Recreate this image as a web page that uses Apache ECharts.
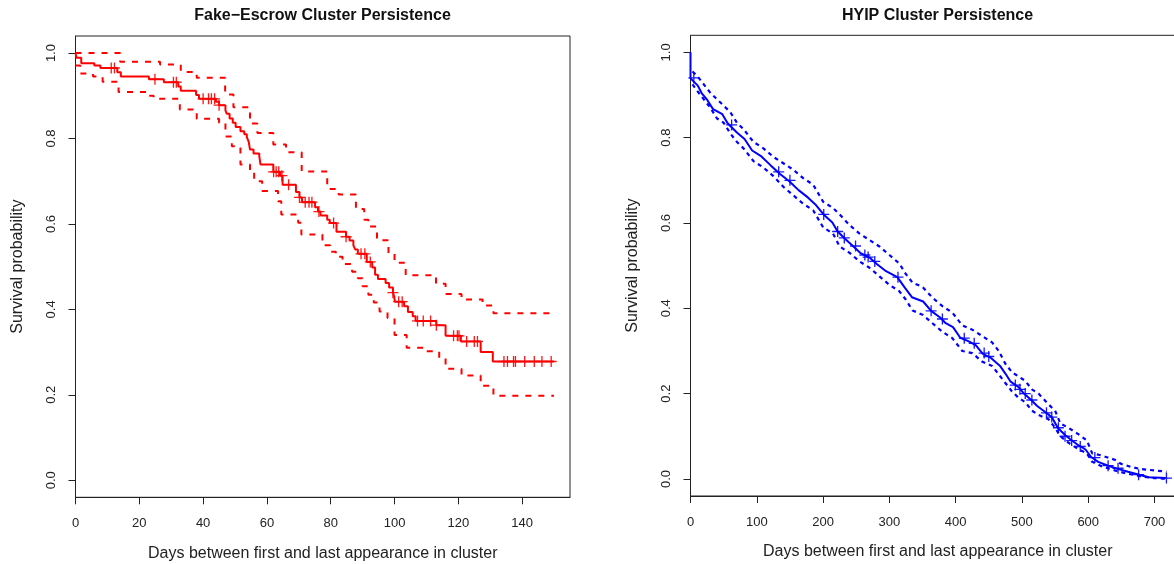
<!DOCTYPE html>
<html><head><meta charset="utf-8">
<script src="https://cdn.jsdelivr.net/npm/echarts@6/dist/echarts.min.js"></script>
<style>html,body{margin:0;padding:0;background:#fff}#c{width:1174px;height:564px}</style>
</head><body><div id="c"></div>
<script>
// ---------- Fake-Escrow (red) ----------
const escrowSurv = [[0,1],[0.3,0.989],[1.8,0.976],[5.9,0.971],[7.8,0.965],[13.1,0.955],[14.2,0.945],[23,0.939],[27.7,0.932],[32.2,0.922],[33,0.912],[37.8,0.902],[38.7,0.893],[44,0.886],[45,0.878],[47,0.866],[47.4,0.858],[48.3,0.847],[49.3,0.837],[50.2,0.827],[51.7,0.817],[52.9,0.81],[53.7,0.803],[54.3,0.792],[54.7,0.774],[55.8,0.765],[57.6,0.759],[58,0.739],[62,0.722],[64.1,0.713],[64.9,0.692],[69.1,0.675],[70.2,0.662],[71,0.651],[75.1,0.639],[76,0.629],[76.8,0.62],[78.9,0.61],[79.7,0.602],[81.8,0.582],[84.8,0.57],[85.9,0.561],[87.1,0.55],[87.7,0.54],[88.5,0.53],[91.3,0.511],[93,0.498],[93.9,0.481],[94.8,0.471],[97.2,0.462],[98.3,0.451],[99.5,0.439],[99.9,0.43],[100.1,0.418],[103,0.407],[104.2,0.394],[105.7,0.384],[106.6,0.373],[113.1,0.363],[116,0.338],[120.8,0.325],[127,0.3],[130.8,0.278],[150,0.278]];
const escrowUpper = [[0,1],[14,0.98],[26.5,0.973],[33,0.956],[38,0.942],[46.9,0.903],[49.5,0.873],[54.7,0.835],[57,0.813],[62,0.786],[66,0.768],[70.9,0.723],[78.9,0.682],[82.5,0.669],[87.9,0.635],[90.5,0.61],[91.8,0.594],[94.5,0.562],[98.1,0.53],[100,0.509],[103.5,0.48],[113,0.46],[116,0.436],[121,0.423],[127.6,0.409],[131,0.391],[150,0.391]];
const escrowLower = [[0,0.971],[1.5,0.952],[5.5,0.945],[8.5,0.933],[13.5,0.909],[22.8,0.9],[24.5,0.893],[32.7,0.868],[38,0.846],[45,0.837],[47,0.805],[49,0.782],[51.7,0.739],[54.7,0.72],[56,0.7],[58.5,0.677],[63.5,0.653],[64.5,0.622],[69.8,0.603],[70.8,0.575],[77.4,0.55],[79.8,0.535],[81.6,0.523],[83.7,0.506],[86.7,0.488],[88.5,0.473],[90,0.454],[91.8,0.434],[93.5,0.416],[95.3,0.395],[97.8,0.38],[100,0.34],[103.8,0.31],[109,0.302],[114,0.286],[116,0.261],[121,0.245],[127,0.221],[131,0.198],[150,0.198]];
const escrowCensor = [[11.2,0.965],[12.2,0.965],[24.9,0.939],[30.7,0.932],[31.6,0.932],[40,0.893],[41.7,0.893],[42.6,0.893],[43.6,0.893],[45,0.878],[62.1,0.722],[62.9,0.722],[63.7,0.722],[64.7,0.713],[66.8,0.692],[70.2,0.662],[72,0.651],[73.2,0.651],[74.1,0.651],[76.3,0.629],[80.9,0.602],[84.8,0.57],[89.5,0.53],[90.7,0.53],[92.4,0.511],[99.5,0.439],[101.3,0.418],[102.4,0.418],[107.2,0.373],[109,0.373],[111.3,0.373],[113.1,0.363],[118.5,0.338],[119.7,0.338],[120.2,0.338],[122.6,0.325],[125,0.325],[126,0.325],[134.3,0.278],[135.4,0.278],[137.3,0.278],[137.9,0.278],[140.8,0.278],[143.8,0.278],[146.2,0.278],[149.1,0.278]];

// ---------- HYIP (blue) ----------
const hyipSurv = [[0,1],[0,0.939],[11,0.922],[17,0.904],[25,0.889],[34,0.867],[48,0.855],[56,0.834],[70,0.812],[81.5,0.797],[93,0.77],[107,0.756],[121,0.735],[135,0.715],[149,0.698],[163,0.677],[177,0.66],[188,0.644],[202,0.618],[214,0.601],[222,0.58],[233,0.563],[245,0.546],[256,0.53],[270,0.519],[281,0.504],[295,0.487],[312,0.473],[323,0.449],[334,0.426],[351,0.416],[363,0.394],[377,0.378],[385,0.365],[396,0.356],[407,0.331],[419,0.323],[430,0.314],[441,0.293],[452,0.285],[467,0.265],[475,0.247],[483,0.228],[495,0.215],[503,0.2],[514,0.185],[523,0.171],[534,0.158],[545,0.145],[554,0.12],[565,0.103],[573,0.093],[585,0.079],[596,0.069],[604,0.052],[615,0.04],[630,0.031],[646,0.023],[660,0.017],[677,0.01],[691,0.004],[717,0.002]];
const hyipUpper = [[3,0.955],[10,0.945],[20,0.925],[30,0.905],[40,0.89],[50,0.875],[60,0.86],[70,0.835],[80,0.82],[95,0.79],[110,0.775],[125,0.755],[140,0.74],[155,0.725],[170,0.705],[185,0.69],[200,0.65],[215,0.635],[225,0.62],[240,0.595],[255,0.575],[270,0.56],[285,0.545],[300,0.525],[315,0.505],[325,0.48],[335,0.46],[350,0.45],[365,0.425],[380,0.405],[395,0.39],[410,0.36],[425,0.35],[440,0.335],[455,0.32],[465,0.3],[475,0.27],[485,0.25],[495,0.24],[505,0.23],[515,0.21],[525,0.2],[540,0.175],[550,0.16],[558,0.13],[570,0.12],[585,0.105],[598,0.09],[606,0.06],[620,0.055],[640,0.045],[650,0.035],[665,0.028],[680,0.023],[700,0.02],[718,0.017]];
const hyipLower = [[3,0.925],[10,0.91],[20,0.89],[30,0.87],[40,0.845],[50,0.835],[60,0.81],[70,0.79],[80,0.775],[95,0.745],[110,0.73],[125,0.71],[140,0.685],[155,0.665],[170,0.645],[185,0.63],[200,0.59],[215,0.575],[225,0.545],[240,0.53],[255,0.51],[270,0.495],[285,0.475],[300,0.455],[315,0.44],[325,0.42],[335,0.395],[350,0.385],[365,0.365],[380,0.345],[395,0.33],[410,0.3],[425,0.295],[440,0.275],[455,0.265],[465,0.245],[475,0.225],[485,0.205],[495,0.19],[505,0.18],[515,0.16],[525,0.15],[540,0.14],[550,0.12],[558,0.1],[570,0.085],[585,0.07],[598,0.06],[606,0.04],[620,0.03],[640,0.02],[660,0.012],[680,0.006],[700,0.002],[718,0]];
const hyipCensor = [[5,0.94],[62,0.83],[133,0.72],[150,0.7],[201,0.62],[222,0.58],[232,0.565],[249,0.546],[263,0.525],[268,0.52],[278,0.51],[313,0.473],[363,0.394],[380,0.375],[413,0.33],[428,0.318],[443,0.295],[450,0.287],[490,0.22],[497,0.21],[505,0.2],[515,0.185],[537,0.155],[545,0.145],[555,0.12],[565,0.1],[575,0.09],[588,0.076],[610,0.05],[630,0.031],[645,0.025],[676,0.01],[718,0.002]];

// ---------- ticks & labels ----------
const yTicks = [0, 0.2, 0.4, 0.6, 0.8, 1.0];
const escrowXTicks = [0, 20, 40, 60, 80, 100, 120, 140];
const hyipXTicks = [0, 100, 200, 300, 400, 500, 600, 700];
const titles = ['Fake\u2212Escrow Cluster Persistence', 'HYIP Cluster Persistence'];
const xName = 'Days between first and last appearance in cluster';
const yName = 'Survival probability';

const FONT = '"Liberation Sans", Arial, Helvetica, sans-serif';
const chart = echarts.init(document.getElementById('c'), null, {renderer: 'canvas'});
const CROSS = 'path://M0,8.8H20V11.2H0Z M8.8,0H11.2V20H8.8Z';

function xAx(gi, max, ticks) {
  return {
    type: 'value', gridIndex: gi, min: 0, max: max,
    axisLine: {show: true, onZero: false, lineStyle: {color: '#222', width: 1}},
    splitLine: {show: false},
    axisTick: {show: true, inside: false, length: 7, customValues: ticks, lineStyle: {color: '#222', width: 1}},
    axisLabel: {customValues: ticks, fontSize: 13, color: '#222', margin: 20, fontFamily: FONT},
    name: xName, nameLocation: 'middle', nameGap: 48,
    nameTextStyle: {fontSize: 16, color: '#222', fontFamily: FONT}
  };
}
function yAx(gi) {
  return {
    type: 'value', gridIndex: gi, min: -0.04, max: 1.04,
    axisLine: {show: true, onZero: false, lineStyle: {color: '#222', width: 1}},
    splitLine: {show: false},
    axisTick: {show: true, inside: false, length: 7, customValues: yTicks, lineStyle: {color: '#222', width: 1}},
    axisLabel: {customValues: yTicks, rotate: 90, fontSize: 13, color: '#222', margin: 18, fontFamily: FONT,
      formatter: v => v.toFixed(1)},
    name: yName, nameLocation: 'middle', nameGap: 50, nameRotate: 90,
    nameTextStyle: {fontSize: 16, color: '#222', fontFamily: FONT}
  };
}
function stepLine(data, gi, color, dash, width) {
  return {type: 'line', xAxisIndex: gi, yAxisIndex: gi, data: data, step: 'end', showSymbol: false,
    symbol: 'none', silent: true, lineStyle: {color: color, width: width, type: dash}};
}
function plainLine(data, gi, color, dash, width) {
  return {type: 'line', xAxisIndex: gi, yAxisIndex: gi, data: data, showSymbol: false,
    symbol: 'none', silent: true, lineStyle: {color: color, width: width, type: dash}};
}
function marks(data, gi, color) {
  return {type: 'scatter', xAxisIndex: gi, yAxisIndex: gi, data: data, symbol: CROSS, symbolSize: 11,
    silent: true, itemStyle: {color: color, opacity: 0.9}};
}

chart.setOption({
  animation: false,
  backgroundColor: '#fff',
  title: [
    {text: titles[0], left: 317.5, top: 3, textAlign: 'center',
      textStyle: {fontSize: 16, fontWeight: 'bold', color: '#111', fontFamily: FONT}},
    {text: titles[1], left: 932.5, top: 3, textAlign: 'center',
      textStyle: {fontSize: 16, fontWeight: 'bold', color: '#111', fontFamily: FONT}}
  ],
  grid: [
    {left: 75.5, top: 36, width: 494.5, height: 461.3, show: true, borderColor: '#222', borderWidth: 1, backgroundColor: 'transparent', containLabel: false, outerBoundsMode: 'none'},
    {left: 690.5, top: 35.3, width: 494.5, height: 460.7, show: true, borderColor: '#222', borderWidth: 1, backgroundColor: 'transparent', containLabel: false, outerBoundsMode: 'none'}
  ],
  xAxis: [xAx(0, 155, escrowXTicks), xAx(1, 746, hyipXTicks)],
  yAxis: [yAx(0), yAx(1)],
  series: [
    stepLine(escrowUpper, 0, '#ff0000', [6, 7], 2),
    stepLine(escrowLower, 0, '#ff0000', [6, 7], 2),
    stepLine(escrowSurv, 0, '#ff0000', 'solid', 2),
    marks(escrowCensor, 0, '#ff0000'),
    plainLine(hyipUpper, 1, '#0000ff', [4, 4], 2.2),
    plainLine(hyipLower, 1, '#0000ff', [4, 4], 2.2),
    plainLine(hyipSurv, 1, '#0000ff', 'solid', 2),
    marks(hyipCensor, 1, '#0000ff')
  ]
});
</script>
</body></html>
